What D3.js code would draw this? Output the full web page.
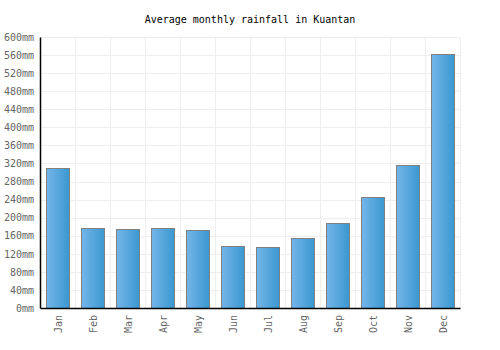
<!DOCTYPE html>
<html>
<head>
<meta charset="utf-8">
<script src="https://cdn.jsdelivr.net/npm/d3@7"></script>
<style>
  body { margin: 0; background: #fff; }
  svg text { font-family: "DejaVu Sans Mono", monospace; }
</style>
</head>
<body>
<div id="chart"></div>
<script>
var months = ["Jan", "Feb", "Mar", "Apr", "May", "Jun", "Jul", "Aug", "Sep", "Oct", "Nov", "Dec"];
var rainfall = [310, 177, 175, 177, 173, 137, 135, 155, 188, 246, 317, 562];
var yTicks = [0, 40, 80, 120, 160, 200, 240, 280, 320, 360, 400, 440, 480, 520, 560, 600];
var title = "Average monthly rainfall in Kuantan";

var margin = {top: 37, right: 40, bottom: 42, left: 40},
    width = 500 - margin.left - margin.right,
    height = 350 - margin.top - margin.bottom;

var svg = d3.select("#chart").append("svg")
    .attr("width", 500)
    .attr("height", 350);

var defs = svg.append("defs");
var grad = defs.append("linearGradient")
    .attr("id", "barGrad")
    .attr("x1", "0%").attr("x2", "100%")
    .attr("y1", "0%").attr("y2", "0%");
grad.append("stop").attr("offset", "0%").attr("stop-color", "#74b5e9");
grad.append("stop").attr("offset", "100%").attr("stop-color", "#3a98d0");

svg.append("text")
    .attr("x", 250)
    .attr("y", 23)
    .attr("text-anchor", "middle")
    .style("font-size", "10px")
    .style("fill", "#000")
    .text(title);

var g = svg.append("g")
    .attr("transform", "translate(" + margin.left + "," + margin.top + ")");

var x = d3.scaleBand().domain(months).range([0, width]).paddingInner(0.33).paddingOuter(0.165);
var xGrid = d3.scaleBand().domain(months).range([0, width]);
var y = d3.scaleLinear().domain([0, 600]).range([height, 0]);

// grid lines
g.append("g").selectAll("line.h")
    .data(yTicks)
    .enter().append("line")
    .attr("x1", 0).attr("x2", width)
    .attr("y1", d => Math.round(y(d)) + 0.5)
    .attr("y2", d => Math.round(y(d)) + 0.5)
    .attr("stroke", "#eeeeee");

g.append("g").selectAll("line.v")
    .data(months)
    .enter().append("line")
    .attr("x1", d => Math.round(xGrid(d) + xGrid.bandwidth()) + 0.5)
    .attr("x2", d => Math.round(xGrid(d) + xGrid.bandwidth()) + 0.5)
    .attr("y1", 0).attr("y2", height)
    .attr("stroke", "#eeeeee");

// bars
g.append("g").selectAll("rect")
    .data(rainfall)
    .enter().append("rect")
    .attr("x", (d, i) => Math.round(x(months[i])) + 0.5)
    .attr("y", d => Math.round(y(d)) + 0.5)
    .attr("width", Math.round(x.bandwidth()))
    .attr("height", d => height - Math.round(y(d)))
    .attr("fill", "url(#barGrad)")
    .attr("stroke", "#808080")
    .attr("stroke-width", 1);

// y axis
var yAxis = g.append("g")
    .style("color", "#666")
    .call(d3.axisLeft(y).tickValues(yTicks).tickSize(0).tickPadding(6).tickFormat(d => d + "mm"));
yAxis.select(".domain").style("stroke", "#000").attr("stroke-width", 1.5);
yAxis.selectAll("text")
    .style("font-family", "DejaVu Sans Mono, monospace")
    .style("font-size", "10px")
    .style("fill", "#666");

// x axis
var xAxis = g.append("g")
    .style("color", "#666")
    .attr("transform", "translate(0," + height + ")")
    .call(d3.axisBottom(xGrid).tickSize(0));
xAxis.select(".domain").style("stroke", "#000").attr("stroke-width", 1.5);
xAxis.selectAll("text")
    .style("font-family", "DejaVu Sans Mono, monospace")
    .style("font-size", "10px")
    .style("fill", "#666")
    .attr("text-anchor", "end")
    .attr("transform", "rotate(-90)")
    .attr("x", -7)
    .attr("y", 1)
    .attr("dy", "0.35em");
</script>
</body>
</html>
